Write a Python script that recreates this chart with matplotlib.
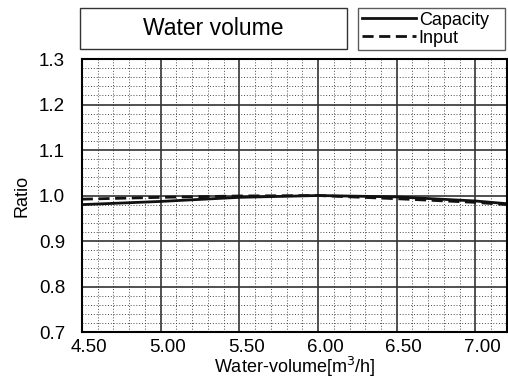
import matplotlib
matplotlib.use('Agg')
import matplotlib.pyplot as plt
import matplotlib.transforms as mtransforms
from matplotlib.patches import Rectangle
import numpy as np

plt.rcParams['font.family'] = ['Liberation Sans', 'DejaVu Sans']

# data
water_volume = [4.5, 5.0, 5.5, 6.0, 6.5, 7.0, 7.2]
capacity = [0.980, 0.987, 0.996, 1.000, 0.997, 0.988, 0.982]
input_ratio = [0.992, 0.996, 0.999, 1.000, 0.993, 0.985, 0.980]

x_ticks = [4.5, 5.0, 5.5, 6.0, 6.5, 7.0]
x_tick_labels = ['4.50', '5.00', '5.50', '6.00', '6.50', '7.00']
y_ticks = [0.7, 0.8, 0.9, 1.0, 1.1, 1.2, 1.3]

fig = plt.figure(figsize=(5.08, 3.81), dpi=100)
ax = fig.add_axes([0.161, 0.1286, 0.837, 0.7164])

ax.plot(water_volume, capacity, color='#111111', lw=2.0, label='Capacity')
ax.plot(water_volume, input_ratio, color='#111111', lw=2.0, ls=(0, (4, 2)), label='Input')

ax.set_xlim(4.5, 7.2)
ax.set_ylim(0.7, 1.3)
ax.set_xticks(x_ticks)
ax.set_xticklabels(x_tick_labels)
ax.set_yticks(y_ticks)
ax.set_xticks(np.arange(4.5, 7.21, 0.1), minor=True)
ax.set_yticks(np.arange(0.7, 1.301, 0.02), minor=True)
ax.grid(which='major', color='#333333', lw=1.2, ls='-')
ax.grid(which='minor', color='#333333', lw=0.6, ls=(0, (1.2, 2.2)))
ax.set_axisbelow(True)
ax.tick_params(which='both', length=0, labelsize=13.5)
ax.tick_params(axis='y', pad=12)
ax.tick_params(axis='x', pad=5)
offset = mtransforms.ScaledTranslation(7 / 100, 0, fig.dpi_scale_trans)
for lab in ax.get_xticklabels():
    lab.set_transform(lab.get_transform() + offset)
for s in ax.spines.values():
    s.set_color('black')
    s.set_linewidth(1.5)

ax.set_xlabel('Water-volume[m$^3$/h]', fontsize=13, labelpad=-1)
ax.set_ylabel('Ratio', fontsize=13, labelpad=6)

# title box
fig.patches.append(Rectangle((0.1575, 0.871), 0.5255, 0.108, transform=fig.transFigure,
                             fill=False, edgecolor='#333333', lw=1.0))
fig.text(0.42, 0.924, 'Water volume', ha='center', va='center', fontsize=16.5)

leg = fig.legend(loc='upper left', bbox_to_anchor=(0.705, 0.871, 0.289, 0.108),
                 mode='expand', frameon=True, fancybox=False, fontsize=13,
                 handlelength=3.0, handletextpad=0.15, labelspacing=0.05,
                 borderpad=0.2, borderaxespad=0)
leg.get_frame().set_edgecolor('#333333')
leg.get_frame().set_linewidth(1.0)

fig.savefig('out.png', dpi=100)
